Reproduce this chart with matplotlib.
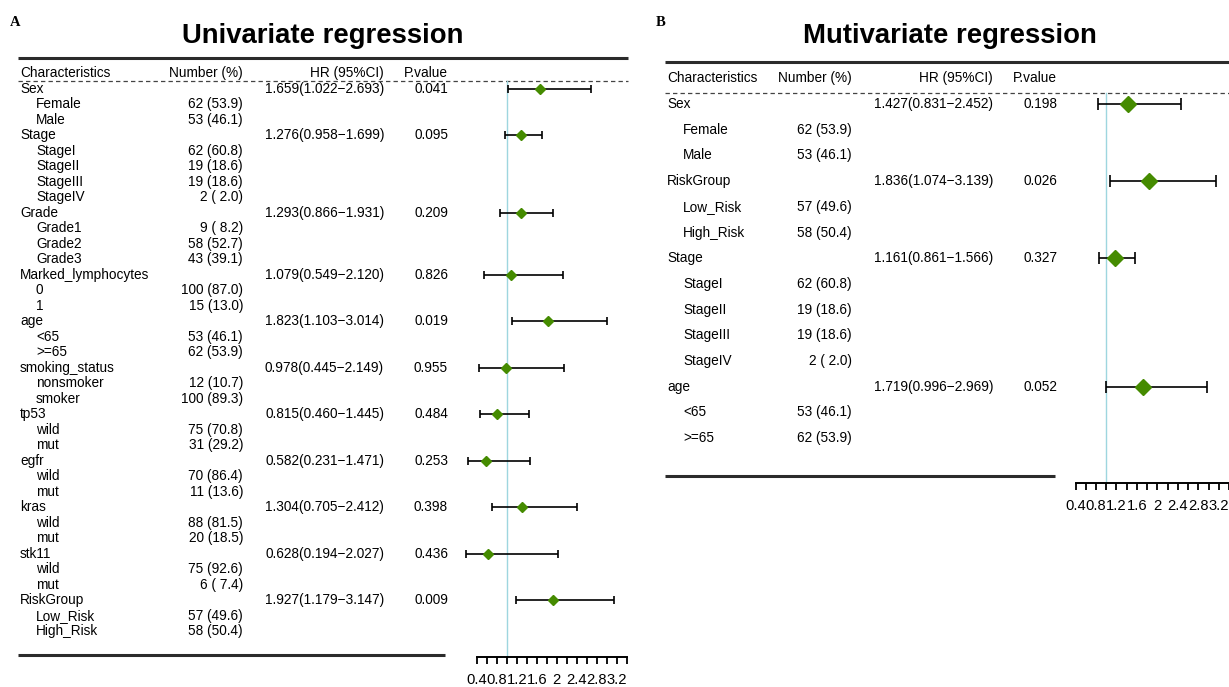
import matplotlib
matplotlib.use("Agg")
import matplotlib.pyplot as plt
import numpy as np

plt.rcParams['font.family'] = ['Liberation Sans', 'DejaVu Sans']

# ---------------- data: univariate ----------------
uni_vars = ["Sex", "Stage", "Grade", "Marked_lymphocytes", "age", "smoking_status",
            "tp53", "egfr", "kras", "stk11", "RiskGroup"]
uni_levels = [["Female", "Male"], ["StageI", "StageII", "StageIII", "StageIV"],
              ["Grade1", "Grade2", "Grade3"], ["0", "1"], ["<65", ">=65"],
              ["nonsmoker", "smoker"], ["wild", "mut"], ["wild", "mut"],
              ["wild", "mut"], ["wild", "mut"], ["Low_Risk", "High_Risk"]]
uni_counts = [["62 (53.9)", "53 (46.1)"],
              ["62 (60.8)", "19 (18.6)", "19 (18.6)", "2 ( 2.0)"],
              ["9 ( 8.2)", "58 (52.7)", "43 (39.1)"],
              ["100 (87.0)", "15 (13.0)"], ["53 (46.1)", "62 (53.9)"],
              ["12 (10.7)", "100 (89.3)"], ["75 (70.8)", "31 (29.2)"],
              ["70 (86.4)", "11 (13.6)"], ["88 (81.5)", "20 (18.5)"],
              ["75 (92.6)", "6 ( 7.4)"], ["57 (49.6)", "58 (50.4)"]]
uni_hr = [1.659, 1.276, 1.293, 1.079, 1.823, 0.978, 0.815, 0.582, 1.304, 0.628, 1.927]
uni_lo = [1.022, 0.958, 0.866, 0.549, 1.103, 0.445, 0.460, 0.231, 0.705, 0.194, 1.179]
uni_hi = [2.693, 1.699, 1.931, 2.120, 3.014, 2.149, 1.445, 1.471, 2.412, 2.027, 3.147]
uni_p = ["0.041", "0.095", "0.209", "0.826", "0.019", "0.955", "0.484", "0.253",
         "0.398", "0.436", "0.009"]

# ---------------- data: multivariate ----------------
multi_vars = ["Sex", "RiskGroup", "Stage", "age"]
multi_levels = [["Female", "Male"], ["Low_Risk", "High_Risk"],
                ["StageI", "StageII", "StageIII", "StageIV"], ["<65", ">=65"]]
multi_counts = [["62 (53.9)", "53 (46.1)"], ["57 (49.6)", "58 (50.4)"],
                ["62 (60.8)", "19 (18.6)", "19 (18.6)", "2 ( 2.0)"],
                ["53 (46.1)", "62 (53.9)"]]
multi_hr = [1.427, 1.836, 1.161, 1.719]
multi_lo = [0.831, 1.074, 0.861, 0.996]
multi_hi = [2.452, 3.139, 1.566, 2.969]
multi_p = ["0.198", "0.026", "0.327", "0.052"]

# axis ticks
tick_values = [0.4, 0.6, 0.8, 1.0, 1.2, 1.4, 1.6, 1.8, 2.0, 2.2, 2.4, 2.6, 2.8, 3.0, 3.2, 3.4]
tick_labels = ["0.4", "", "0.8", "", "1.2", "", "1.6", "", "2", "", "2.4", "", "2.8", "", "3.2", ""]
header = ["Characteristics", "Number (%)", "HR (95%CI)", "P.value"]

W, H = 1229, 687
fig = plt.figure(figsize=(W / 100, H / 100), dpi=100)

GREEN = "#458B00"
REF = "#9ED6DF"
LINE = "#2b2b2b"


def px_axes(x0, y0, x1, y1):
    return fig.add_axes([x0 / W, 1 - y1 / H, (x1 - x0) / W, (y1 - y0) / H])


def build_rows(vars_, levels, counts, hr, lo, hi, p):
    rows = []
    for v, lv, ct, h, l, u, pv in zip(vars_, levels, counts, hr, lo, hi, p):
        rows.append(dict(label=v, indent=False, num="",
                         hrtxt=f"{h:.3f}({l:.3f}\u2212{u:.3f})", p=pv, hr=h, lo=l, hi=u))
        for name, c in zip(lv, ct):
            rows.append(dict(label=name, indent=True, num=c,
                             hrtxt="", p="", hr=None, lo=None, hi=None))
    return rows


def panel(rows, L):
    r0, dr = L["row0"], L["dr"]
    to_row = lambda ypx: (ypx - r0) / dr
    y_top, y_bot = to_row(L["top"]), to_row(L["axis_y"])
    tab = px_axes(L["x0"], L["top"], L["x1"], L["axis_y"])
    tab.set_xlim(L["x0"], L["x1"])
    tab.set_ylim(y_bot, y_top)
    tab.axis("off")
    fs = 9.8
    hy = to_row(L["head_y"])
    tab.text(L["cx"][0], hy, header[0], fontsize=fs, va="center", ha="left")
    for k in (1, 2, 3):
        tab.text(L["cx"][k], hy, header[k], fontsize=fs, va="center", ha="right")
    for i, r in enumerate(rows):
        x = L["cx"][0] + (16 if r["indent"] else 0)
        tab.text(x, i, r["label"], fontsize=fs, va="center", ha="left")
        if r["num"]:
            tab.text(L["cx"][1], i, r["num"], fontsize=fs, va="center", ha="right")
        if r["hrtxt"]:
            tab.text(L["cx"][2], i, r["hrtxt"], fontsize=fs, va="center", ha="right")
            tab.text(L["cx"][3], i, r["p"], fontsize=fs, va="center", ha="right")
    tab.plot([L["x0"], L["rule_x1"]], [y_top, y_top], color=LINE, lw=2.2, clip_on=False,
             solid_capstyle="butt")
    dy = to_row(L["dash_y"])
    tab.plot([L["x0"], L["rule_x1"]], [dy, dy], color="#444444", lw=0.9,
             ls=(0, (3.5, 2.5)), clip_on=False)
    by = to_row(L["bot_y"])
    tab.plot([L["x0"], L["bot_x1"]], [by, by], color=LINE, lw=2.2, clip_on=False,
             solid_capstyle="butt")

    fx0, fx1 = L["fx"]
    ax = px_axes(fx0, L["top"], fx1, L["axis_y"])
    s, p04 = L["scale"], L["px04"]
    ax.set_xlim(0.4 + (fx0 - p04) / s, 0.4 + (fx1 - p04) / s)
    ax.set_ylim(y_bot, y_top)
    ax.patch.set_alpha(0)
    for sp in ["top", "left", "right"]:
        ax.spines[sp].set_visible(False)
    ax.spines["bottom"].set_bounds(tick_values[0], tick_values[-1])
    ax.spines["bottom"].set_linewidth(1.4)
    ax.spines["bottom"].set_color("black")
    ax.set_yticks([])
    ax.set_xticks(tick_values)
    ax.set_xticklabels(tick_labels, fontsize=10.6)
    ax.tick_params(axis="x", direction="out", length=5, width=1.3, pad=6.5)
    ax.plot([1, 1], [dy, y_bot], color=REF, lw=1.0, zorder=1, clip_on=False)
    idx = [i for i, r in enumerate(rows) if r["hr"] is not None]
    hr = np.array([rows[i]["hr"] for i in idx])
    lo = np.array([rows[i]["lo"] for i in idx])
    hi = np.array([rows[i]["hi"] for i in idx])
    ax.errorbar(hr, idx, xerr=[hr - lo, hi - hr], fmt="none", ecolor="black",
                elinewidth=1.2, capsize=L["cap"], capthick=1.2, zorder=2, clip_on=False)
    ax.plot(hr, idx, ls="none", marker="D", ms=L["ms"], color=GREEN, mec=GREEN,
            zorder=3, clip_on=False)


uni_rows = build_rows(uni_vars, uni_levels, uni_counts, uni_hr, uni_lo, uni_hi, uni_p)
multi_rows = build_rows(multi_vars, multi_levels, multi_counts, multi_hr, multi_lo,
                        multi_hi, multi_p)

panel(uni_rows, dict(row0=89, dr=15.49, top=58, axis_y=657, head_y=73, dash_y=81,
                     bot_y=655, x0=18, x1=628, rule_x1=628, bot_x1=445,
                     cx=[20, 243, 384, 448], fx=(450, 640), scale=50, px04=476.7,
                     cap=2.9, ms=4.6))
panel(multi_rows, dict(row0=104, dr=25.7, top=62, axis_y=483, head_y=78, dash_y=93,
                       bot_y=476, x0=665, x1=1229, rule_x1=1229, bot_x1=1055,
                       cx=[667, 852, 993, 1057], fx=(1060, 1229), scale=52.5, px04=1076,
                       cap=4.3, ms=8.0))

fig.text(323 / W, 1 - 36 / H, "Univariate regression", fontsize=19.8, fontweight="bold",
         ha="center", va="center")
fig.text(950 / W, 1 - 36 / H, "Mutivariate regression", fontsize=19.8, fontweight="bold",
         ha="center", va="center")
fig.text(15 / W, 1 - 22 / H, "A", fontsize=10.5, fontweight="bold",
         family="Liberation Serif", ha="center", va="center")
fig.text(661 / W, 1 - 22 / H, "B", fontsize=10.5, fontweight="bold",
         family="Liberation Serif", ha="center", va="center")

fig.savefig("out.png", dpi=100, facecolor="white")
